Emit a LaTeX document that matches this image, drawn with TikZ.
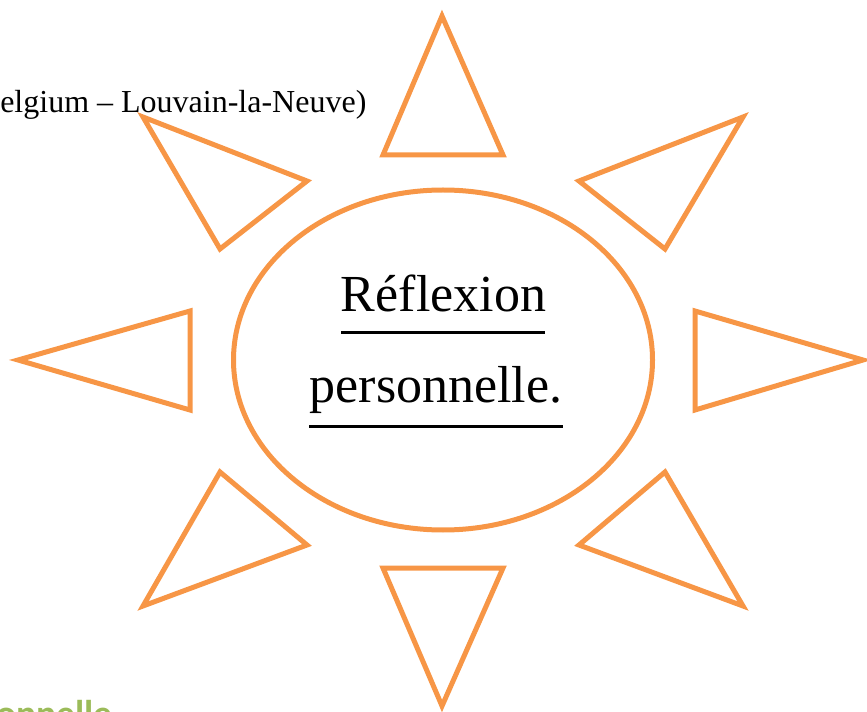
\documentclass[tikz,border=0pt]{standalone}
\usepackage{fontspec}
\setmainfont{Liberation Serif}
\newfontfamily\headfont{Carlito}
\usetikzlibrary{shapes.geometric}
\definecolor{sunOrange}{HTML}{F79646}
\definecolor{headGreen}{HTML}{9BBB59}

\begin{document}
\begin{tikzpicture}[x=0.75pt,y=-0.75pt,
    ray/.style={draw=sunOrange,line width=3.75pt,line join=miter},
    rule/.style={draw=black,line width=2.25pt}]
  \useasboundingbox (0,0) rectangle (867,712);
  \clip (0,0) rectangle (867,712);

  % clipped page text
  \node[anchor=base west,inner sep=0pt,font=\fontsize{24}{29}\selectfont]
    (place) at (0,113) {elgium -- Louvain-la-Neuve)};
  \node[anchor=base east,inner sep=0pt,text=headGreen,
        font=\headfont\bfseries\fontsize{28}{34}\selectfont]
    (heading) at (113,726) {onnelle};

  % sun rays
  \foreach \ax/\ay/\bx/\by/\cx/\cy in {442/16/383/155/503/155,
      743/117/579/181/665/249, 863/360/695/311/695/410,
      743/606/579/545/665/472, 442/706/383/568/503/568,
      143/606/307/545/220/472, 18/360/190/311/190/410,
      143/117/307/181/220/249}
    \draw[ray] (\ax,\ay) -- (\bx,\by) -- (\cx,\cy) -- cycle;

  % sun core
  \node[ellipse,draw=sunOrange,line width=3.75pt,inner sep=0pt,
        minimum width=314.25pt,minimum height=255pt] (core) at (443,360) {};
  \node[anchor=base,inner sep=0pt,font=\fontsize{39}{47}\selectfont]
    (title1) at (443.5,312) {Réflexion};
  \node[anchor=base,inner sep=0pt,font=\fontsize{39}{47}\selectfont]
    (title2) at (436,403) {personnelle.};
  \draw[rule] (341,333) -- (545,333);
  \draw[rule] (309,427) -- (563,427);
\end{tikzpicture}
\end{document}
